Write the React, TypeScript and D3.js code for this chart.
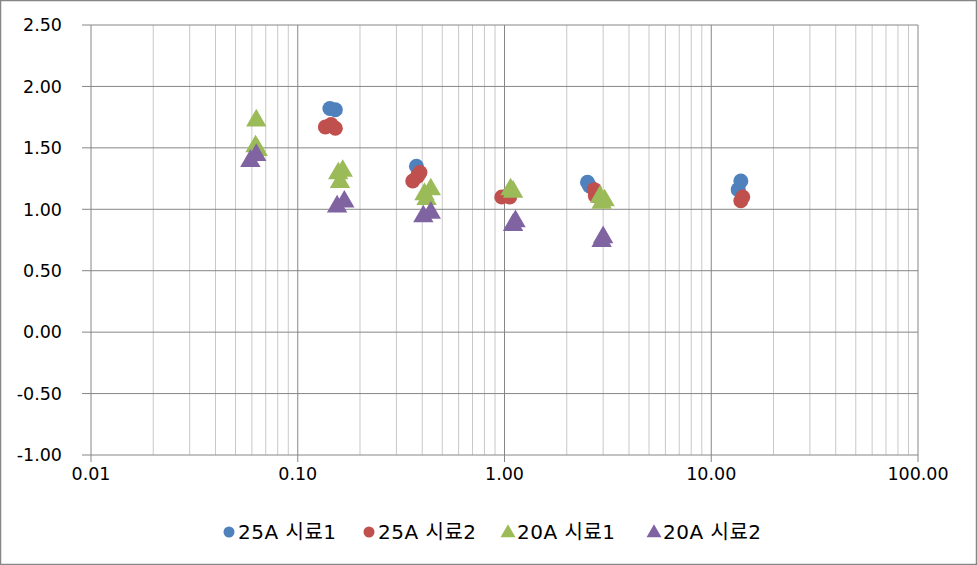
import React from "react";
import * as d3 from "d3";

const W = 977, H = 565;
const seriesNames = ["25A 시료1", "25A 시료2", "20A 시료1", "20A 시료2"];
const seriesColors = ["#4F81BD", "#C0504D", "#9BBB59", "#8064A2"];
const seriesShapes = ["circle", "circle", "triangle", "triangle"];

const s1x = [0.143, 0.152, 0.375, 0.385, 1.03, 2.52, 2.58, 13.5, 13.9];
const s1y = [1.82, 1.81, 1.35, 1.29, 1.11, 1.22, 1.19, 1.16, 1.23];
const s2x = [0.136, 0.145, 0.152, 0.36, 0.38, 0.39, 0.97, 1.06, 2.72, 2.75, 13.9, 14.2];
const s2y = [1.67, 1.69, 1.66, 1.23, 1.27, 1.30, 1.10, 1.10, 1.16, 1.11, 1.07, 1.10];
const s3x = [0.063, 0.0625, 0.064, 0.157, 0.165, 0.16, 0.41, 0.44, 0.42, 1.07, 1.1, 2.9, 3.05, 2.95];
const s3y = [1.73, 1.52, 1.49, 1.30, 1.32, 1.23, 1.13, 1.17, 1.09, 1.17, 1.15, 1.11, 1.08, 1.06];
const s4x = [0.059, 0.063, 0.155, 0.168, 0.405, 0.44, 1.1, 1.13, 2.95, 3.0];
const s4y = [1.40, 1.45, 1.03, 1.07, 0.95, 0.98, 0.88, 0.91, 0.75, 0.78];

const xTicks = [0.01, 0.1, 1, 10, 100];
const xTickLabels = ["0.01", "0.10", "1.00", "10.00", "100.00"];
const yTicks = [-1, -0.5, 0, 0.5, 1, 1.5, 2, 2.5];
const yTickLabels = ["-1.00", "-0.50", "0.00", "0.50", "1.00", "1.50", "2.00", "2.50"];

const seriesX = [s1x, s2x, s3x, s4x];
const seriesY = [s1y, s2y, s3y, s4y];

const FONT = "'DejaVu Sans', 'Noto Sans CJK KR', sans-serif";

export default function App() {
  const x = d3.scaleLog().domain([0.01, 100]).range([91, 918]);
  const y = d3.scaleLinear().domain([-1, 2.5]).range([455, 25]);
  const minor: number[] = [];
  for (const dec of [0.01, 0.1, 1, 10]) for (let k = 2; k <= 9; k++) minor.push(dec * k);

  const marker = (shape: string, cx: number, cy: number, color: string, r: number, key: any) =>
    shape === "circle" ? (
      <circle key={key} cx={cx} cy={cy} r={r} fill={color} />
    ) : (
      <path key={key} d={d3.symbol(d3.symbolTriangle, r * r * 3.2)() as string} transform={`translate(${cx},${cy + 1})`} fill={color} />
    );

  const legendX = [229, 369, 508, 654];

  return (
    <svg width={W} height={H} style={{ position: "absolute", left: 0, top: 0, background: "#fff" }} fontFamily={FONT}>
      <rect x={0.5} y={0.5} width={W - 1} height={H - 1} fill="#fff" stroke="#868686" strokeWidth={1.5} />
      {minor.map((v, i) => (
        <line key={"m" + i} x1={x(v)} x2={x(v)} y1={25} y2={455} stroke="#c8c8c8" strokeWidth={1} />
      ))}
      {xTicks.map((v, i) => (
        <line key={"xg" + i} x1={x(v)} x2={x(v)} y1={25} y2={462} stroke="#868686" strokeWidth={1} />
      ))}
      {yTicks.map((v, i) => (
        <line key={"yg" + i} x1={82} x2={918} y1={y(v)} y2={y(v)} stroke="#868686" strokeWidth={1} />
      ))}
      {yTicks.map((v, i) => (
        <text key={"yl" + i} x={62} y={y(v)} dy="0.36em" textAnchor="end" fontSize={17.5} fill="#000">
          {yTickLabels[i]}
        </text>
      ))}
      {xTicks.map((v, i) => (
        <text key={"xl" + i} x={x(v)} y={467} dy="0.72em" textAnchor="middle" fontSize={17.5} fill="#000">
          {xTickLabels[i]}
        </text>
      ))}
      {seriesX.map((xs, si) =>
        xs.map((xv, j) => marker(seriesShapes[si], x(xv), y(seriesY[si][j]), seriesColors[si], 7.5, `p${si}-${j}`))
      )}
      {seriesNames.map((n, i) => (
        <g key={"lg" + i}>
          {marker(seriesShapes[i], legendX[i], 532, seriesColors[i], 5.5, "lm" + i)}
          <text x={legendX[i] + 9} y={532} dy="0.36em" fontSize={20} letterSpacing={0.5} fill="#000">
            {n}
          </text>
        </g>
      ))}
    </svg>
  );
}
